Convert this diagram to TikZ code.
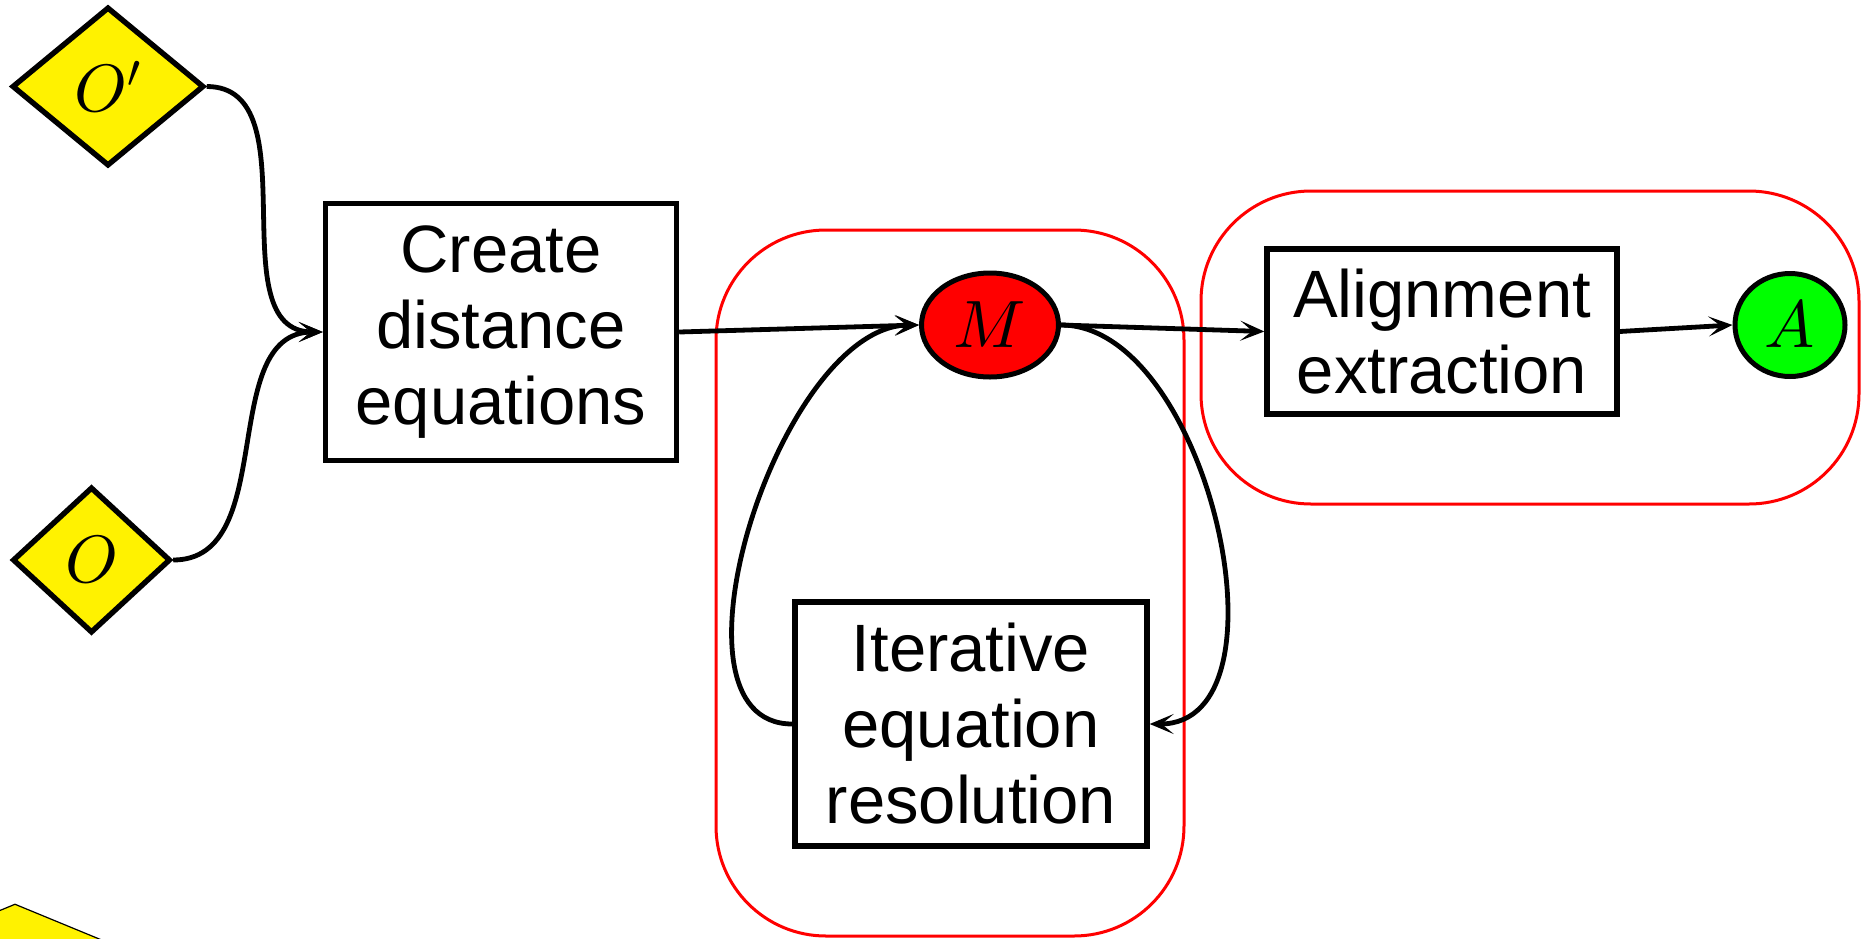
\documentclass[tikz,border=0pt]{standalone}
\usepackage{fontspec}
\setmainfont{Liberation Sans}
% scalable math fonts at any size
\DeclareFontShape{OML}{cmm}{m}{it}{<->cmmi10}{}
\DeclareFontShape{OMS}{cmsy}{m}{n}{<->cmsy10}{}
\usetikzlibrary{shapes.geometric,arrows.meta}
\begin{document}
\begin{tikzpicture}[x=0.5pt,y=-0.5pt,
  every node/.style={font=\fontsize{33.5}{38}\selectfont},
  src/.style={shape=diamond, draw, line width=2.7pt, fill=yellow, inner sep=0pt},
  procbox/.style={draw, line width=2.7pt, align=center, inner sep=0pt},
  state/.style={ellipse, draw, line width=2.5pt, inner sep=0pt},
  group/.style={draw=red, line width=1.5pt, rounded corners=55pt},
  conn/.style={line width=2.4pt, -{Stealth[length=12pt,width=10pt,inset=6pt]}}
]
\useasboundingbox (0,0) rectangle (1870,938);

% grouping frames
\draw[group] (716,230) rectangle (1184,936);
\draw[group] (1201,191) rectangle (1859,504);

% inputs
\node[src, minimum width=96pt, minimum height=79.5pt] (Op) at (108,86.5) {$O'$};
\node[src, minimum width=79pt, minimum height=73pt] (O) at (91.5,560) {$O$};
\node[src, line width=0.6pt, minimum width=150pt, minimum height=62pt] (P) at (15,966) {};

% processing steps and states
\node[procbox, minimum width=175.5pt, minimum height=128.5pt] (create) at (501,332) {Create\\distance\\equations};
\node[state, fill=red, minimum width=68.5pt, minimum height=52pt] (M) at (990,325) {$M$};
\node[procbox, minimum width=176pt, minimum height=122pt] (iter) at (971,724) {Iterative\\equation\\resolution};
\node[procbox, minimum width=175pt, minimum height=82.5pt] (align) at (1442,331.5) {Alignment\\extraction};
\node[state, fill=green, minimum width=55pt, minimum height=51.5pt] (A) at (1790,325) {$A$};

% connectors
\draw[conn] (Op.east) to[out=0,in=180] (create.west);
\draw[conn] (O.east) to[out=0,in=180] (create.west);
\draw[conn] (create.east) -- (M.west);
\draw[conn] (M.east) -- (align.west);
\draw[conn] (align.east) -- (A.west);
\draw[conn] (iter.west) to[out=180,in=180,looseness=0.85] (M.west);
\draw[conn] (M.east) to[out=0,in=0,looseness=0.92] (iter.east);
\end{tikzpicture}
\end{document}
